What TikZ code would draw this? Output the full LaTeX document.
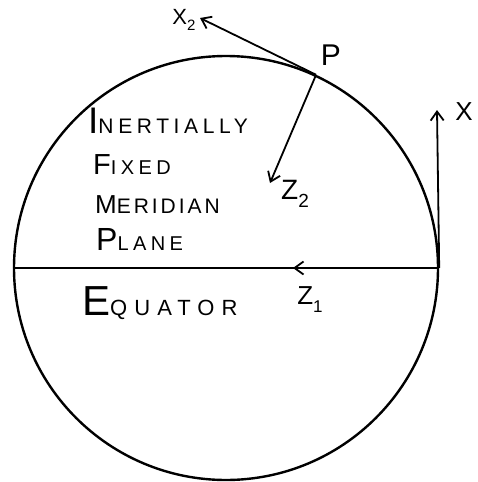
\documentclass[tikz,border=0pt]{standalone}
\usepackage{fontspec}
\usetikzlibrary{arrows.meta}
\newfontfamily\hand[LetterSpace=22]{Liberation Sans}
\newfontfamily\handm[LetterSpace=14]{Liberation Sans}
\newfontfamily\hande[LetterSpace=32]{Liberation Sans}
\newfontfamily\handl{Liberation Sans}
\newcommand{\fs}[1]{\fontsize{#1}{#1}\selectfont}
\begin{document}
\begin{tikzpicture}[x=1pt,y=-1pt,
  curve/.style={line width=2.4pt},
  axis/.style={line width=1.8pt,-{Straight Barb[length=9pt,width=13pt,line width=1.8pt]}},
  lbl/.style={inner sep=0pt,font=\handl},
  words/.style={inner sep=0pt,anchor=base west}]
\useasboundingbox (0,0) rectangle (477,482);
\coordinate (O) at (226,268);
\node[curve,draw,circle,minimum size=424pt,inner sep=0pt] (earth) at (O) {};
\draw[line width=1.8pt] (earth.west) -- (earth.east);
\coordinate (P) at (earth.65.7);
\coordinate (x2tip) at (200,18);
\coordinate (z2tip) at (270,183);
\coordinate (xtip) at (437,110);
\coordinate (z1a) at (320,268);
\coordinate (z1tip) at (293,268);
\draw[axis] (P) -- (x2tip);
\draw[axis] (P) -- (z2tip);
\draw[axis] (earth.east) -- (xtip);
\draw[-{Straight Barb[length=9pt,width=13pt,line width=1.8pt]},line width=1.8pt] (z1a) -- (z1tip);
\node[lbl] (lx2) at (184,20) {\fs{22}X\raisebox{-6pt}{\fs{15}2}};
\node[lbl] (lp) at (331,55) {\fs{30}P};
\node[lbl] (lz2) at (295,194) {\fs{28}Z\raisebox{-8pt}{\fs{19}2}};
\node[lbl] (lx) at (464,112) {\fs{26}X};
\node[lbl] (lz1) at (310,300) {\fs{26}Z\raisebox{-8pt}{\fs{17}1}};
\node[words] (w1) at (88,133) {\hand\fs{37}I\fs{21}NERTIALLY};
\node[words] (w2) at (93,174) {\hand\fs{29}F\fs{20}IXED};
\node[words] (w3) at (95,213) {\handm\fs{26}M\fs{21}ERIDIAN};
\node[words] (w4) at (96,250) {\hand\fs{32}P\fs{20}LANE};
\node[words] (w5) at (82,315) {\hande\fs{42}E\fs{22}QUATOR};
\end{tikzpicture}
\end{document}
